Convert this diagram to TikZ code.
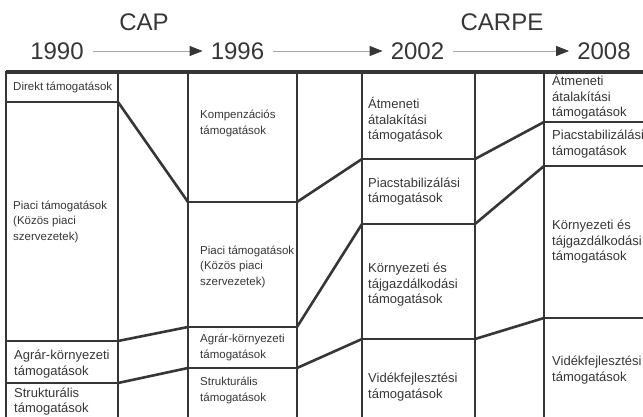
\documentclass[tikz,border=0pt]{standalone}
\usepackage{fontspec}
\setmainfont{Liberation Sans}
\usetikzlibrary{arrows.meta}

\definecolor{ink}{HTML}{363636}
\definecolor{rule}{HTML}{A8A8A8}

\begin{document}
\begin{tikzpicture}[x=1pt, y=-1pt,
  cell/.style={draw=ink, line width=2.6pt, anchor=north west, inner sep=0pt, outer sep=0pt},
  colA/.style={cell, minimum width=112pt},
  colB/.style={cell, minimum width=109pt},
  colC/.style={cell, minimum width=113pt},
  colD/.style={cell, minimum width=120pt},
  txt/.style={anchor=west, inner sep=0pt, align=left, text=ink, font=\fontsize{11.5}{15.5}\selectfont},
  txtbig/.style={txt, font=\fontsize{13}{15.5}\selectfont},
  link/.style={draw=ink, line width=2.6pt},
  year/.style={inner sep=0pt, text=ink, font=\fontsize{24}{28}\selectfont},
  timeline/.style={draw=rule, line width=0.8pt, shorten <=9pt, shorten >=8pt,
    -{Triangle[length=13pt, width=10pt, color=ink]}}
]
  \useasboundingbox (0,0) rectangle (643,416);

  % header
  \node[year] (cap) at (144,22) {CAP};
  \node[year] (carpe) at (502,22) {CARPE};
  \node[year] (y1990) at (57,51) {1990};
  \node[year] (y1996) at (237.5,51) {1996};
  \node[year] (y2002) at (417.5,51) {2002};
  \node[year] (y2008) at (604,51) {2008};
  \draw[timeline] (y1990) -- (y1996);
  \draw[timeline] (y1996) -- (y2002);
  \draw[timeline] (y2002) -- (y2008);

  % 1990
  \node[colA, minimum height=30pt] (dir90) at (6,72) {};
  \node[colA, minimum height=239pt] (piac90) at (dir90.south west) {};
  \node[colA, minimum height=42pt] (agrar90) at (piac90.south west) {};
  \node[colA, minimum height=37pt] (strukt90) at (agrar90.south west) {};

  % 1996
  \node[colB, minimum height=130pt] (komp96) at (188,72) {};
  \node[colB, minimum height=125pt] (piac96) at (komp96.south west) {};
  \node[colB, minimum height=41pt] (agrar96) at (piac96.south west) {};
  \node[colB, minimum height=52pt] (strukt96) at (agrar96.south west) {};

  % 2002
  \node[colC, minimum height=87pt] (atm02) at (362,72) {};
  \node[colC, minimum height=65pt] (stab02) at (atm02.south west) {};
  \node[colC, minimum height=115pt] (korny02) at (stab02.south west) {};
  \node[colC, minimum height=96pt] (videk02) at (korny02.south west) {};

  % 2008
  \node[colD, minimum height=50pt] (atm08) at (544,72) {};
  \node[colD, minimum height=44pt] (stab08) at (atm08.south west) {};
  \node[colD, minimum height=152pt] (korny08) at (stab08.south west) {};
  \node[colD, minimum height=104pt] (videk08) at (korny08.south west) {};

  \draw[ink, line width=4pt] (dir90.north west) -- (atm08.north east);

  % shifts between periods
  \draw[link] (dir90.south east) -- (komp96.south west);
  \draw[link] (piac90.south east) -- (piac96.south west);
  \draw[link] (agrar90.south east) -- (agrar96.south west);
  \draw[link] (komp96.south east) -- (atm02.south west);
  \draw[link] (piac96.south east) -- (stab02.south west);
  \draw[link] (agrar96.south east) -- (korny02.south west);
  \draw[link] (atm02.south east) -- (atm08.south west);
  \draw[link] (stab02.south east) -- (stab08.south west);
  \draw[link] (korny02.south east) -- (korny08.south west);

  % labels
  \node[txt] (dir90t) at ([xshift=7pt]dir90.west) {Direkt támogatások};
  \node[txt] (piac90t) at ([xshift=7pt]piac90.west) {Piaci támogatások\\(Közös piaci\\szervezetek)};
  \node[txtbig] (agrar90t) at ([xshift=8pt, yshift=-2pt]agrar90.west) {Agrár-környezeti\\támogatások};
  \node[txtbig] (strukt90t) at ([xshift=8pt]strukt90.west) {Strukturális\\támogatások};

  \node[txt] (komp96t) at ([xshift=12pt, yshift=13.5pt]komp96.west) {Kompenzációs\\támogatások};
  \node[txt] (piac96t) at ([xshift=12pt, yshift=-2pt]piac96.west) {Piaci támogatások\\(Közös piaci\\szervezetek)};
  \node[txt] (agrar96t) at ([xshift=12pt]agrar96.west) {Agrár-környezeti\\támogatások};
  \node[txt] (strukt96t) at ([xshift=12pt, yshift=3.5pt]strukt96.west) {Strukturális\\támogatások};

  \node[txtbig] (atm02t) at ([xshift=6pt, yshift=-4.5pt]atm02.west) {Átmeneti\\átalakítási\\támogatások};
  \node[txtbig] (stab02t) at ([xshift=6pt]stab02.west) {Piacstabilizálási\\támogatások};
  \node[txtbig] (korny02t) at ([xshift=6pt, yshift=-3.5pt]korny02.west) {Környezeti és\\tájgazdálkodási\\támogatások};
  \node[txtbig] (videk02t) at ([xshift=6pt]videk02.west) {Vidékfejlesztési\\támogatások};

  \node[txtbig] (atm08t) at ([xshift=8pt]atm08.west) {Átmeneti\\átalakítási\\támogatások};
  \node[txtbig] (stab08t) at ([xshift=8pt]stab08.west) {Piacstabilizálási\\támogatások};
  \node[txtbig] (korny08t) at ([xshift=8pt]korny08.west) {Környezeti és\\tájgazdálkodási\\támogatások};
  \node[txtbig] (videk08t) at ([xshift=8pt]videk08.west) {Vidékfejlesztési\\támogatások};
\end{tikzpicture}
\end{document}
